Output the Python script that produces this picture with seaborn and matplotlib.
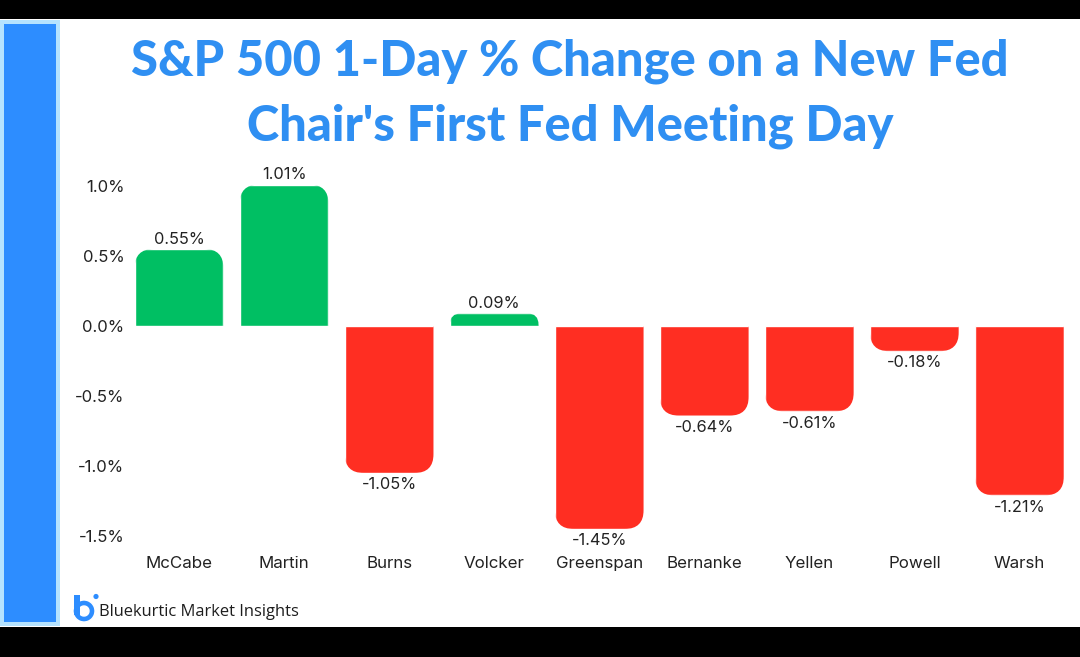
import matplotlib
matplotlib.use("Agg")
import matplotlib.pyplot as plt
import pandas as pd
import seaborn as sns
from matplotlib.patches import Circle, Rectangle, Wedge
from matplotlib.path import Path
from matplotlib.ticker import FuncFormatter
from matplotlib.transforms import Affine2D

chairs = ["McCabe", "Martin", "Burns", "Volcker", "Greenspan", "Bernanke", "Yellen", "Powell", "Warsh"]
changes = [0.55, 1.01, -1.05, 0.09, -1.45, -0.64, -0.61, -0.18, -1.21]
y_ticks = [1.0, 0.5, 0.0, -0.5, -1.0, -1.5]
title_lines = ["S&P 500 1-Day % Change on a New Fed", "Chair's First Fed Meeting Day"]
brand = "Bluekurtic Market Insights"

BLUE = "#2f8ff2"
SIDE = "#2d8dff"
SIDE_EDGE = "#b5e3ff"
GREEN = "#00bf63"
RED = "#ff2e22"
INK = "#222222"
W, H = 1080, 657

sns.set_theme(style="white")
plt.rcParams["font.family"] = ["Inter", "DejaVu Sans"]

fig = plt.figure(figsize=(W / 100, H / 100), dpi=100, facecolor="black")
# Page furniture is placed in pixel units with the origin at the top left.
page = Affine2D().scale(1, -1).translate(0, H)


def page_rect(x0, y0, x1, y1, color):
    fig.add_artist(Rectangle((x0, y0), x1 - x0, y1 - y0, facecolor=color, edgecolor="none",
                             transform=page, zorder=0))


page_rect(0, 19, W, 627, "white")
page_rect(0, 20, 60, 626, SIDE_EDGE)
page_rect(4, 24, 56, 622, SIDE)

px_per_unit = 140.0
zero_y = 326.0
ax_left, ax_right = 126.5, 1072.0
y_top, y_bottom = 1.12, -1.6
ax = fig.add_axes([ax_left / W, 1 - (zero_y + px_per_unit * -y_bottom) / H,
                   (ax_right - ax_left) / W, (y_top - y_bottom) * px_per_unit / H])
ax.patch.set_alpha(0)

df = pd.DataFrame({"chair": chairs, "change": changes})
df["direction"] = ["up" if v >= 0 else "down" for v in changes]
sns.barplot(data=df, x="chair", y="change", hue="direction", dodge=False, width=0.845,
            palette={"up": GREEN, "down": RED}, legend=False, saturation=1, ax=ax)
ax.set_xlim(-0.5, len(chairs) - 0.5)
ax.set_ylim(y_bottom, y_top)
sns.despine(ax=ax, left=True, bottom=True)
ax.set_xlabel("")
ax.set_ylabel("")
ax.set_yticks(y_ticks)
ax.yaxis.set_major_formatter(FuncFormatter(lambda v, _: f"{v:.1f}%"))
ax.tick_params(axis="y", length=0, labelsize=12.0, labelcolor=INK, pad=1.5)
ax.tick_params(axis="x", length=0, labelsize=12.2, labelcolor=INK, pad=4.5)
ax.grid(False)


def rounded_end(bar, radius_px=19.0):
    """Clip outline for a bar: the end away from zero has rounded corners."""
    x0, w = bar.get_x(), bar.get_width()
    y_base, h = bar.get_y(), bar.get_height()
    x1 = x0 + w
    end = y_base + h
    sign = 1 if h >= 0 else -1
    span = abs(h) * px_per_unit
    r_px = min(radius_px, span * 0.9)
    rx = r_px * (len(chairs) / (ax_right - ax_left))
    ry = sign * r_px / px_per_unit
    verts = [(x0, y_base), (x0, end - ry), (x0, end), (x0 + rx, end),
             (x1 - rx, end), (x1, end), (x1, end - ry), (x1, y_base), (x0, y_base)]
    codes = [Path.MOVETO, Path.LINETO, Path.CURVE3, Path.CURVE3,
             Path.LINETO, Path.CURVE3, Path.CURVE3, Path.LINETO, Path.CLOSEPOLY]
    return Path(verts, codes)


for bar in ax.patches:
    bar.set_clip_path(rounded_end(bar), ax.transData)

# Labels below negative bars sit slightly further from the bar end.
for container in ax.containers:
    pad = 3.0 if container.datavalues[0] < 0 else 1.8
    ax.bar_label(container, fmt="{:.2f}%", padding=pad, fontsize=11.8, color=INK)

for y_px, line in zip((61, 126), title_lines):
    fig.text(570 / W, 1 - y_px / H, line, ha="center", va="center", color=BLUE,
             fontsize=35.2, fontweight="black", family=["Lato", "DejaVu Sans"])

# Brand mark: a ring with a stem and a dot, followed by the name.
fig.add_artist(Wedge((84, 611), 11, 0, 360, width=6, facecolor=SIDE, transform=page, zorder=3))
fig.add_artist(Rectangle((73.5, 595), 6.5, 20, facecolor=SIDE, edgecolor="none", transform=page, zorder=3))
fig.add_artist(Circle((96, 596.5), 2.6, facecolor=SIDE, edgecolor="none", transform=page, zorder=3))
fig.text(99 / W, 1 - 612 / H, brand, ha="left", va="center", color="#1d1d1d",
         fontsize=11.9, family=["Open Sans", "DejaVu Sans"], fontweight="medium")

fig.savefig("out.png", dpi=100, facecolor=fig.get_facecolor())
